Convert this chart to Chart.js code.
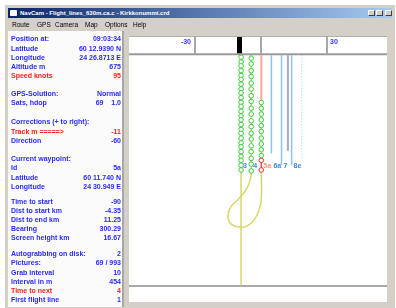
<!DOCTYPE html>
<html><head><meta charset="utf-8">
<script src="https://cdn.jsdelivr.net/npm/chart.js@4/dist/chart.umd.min.js"></script>
<style>
html,body{margin:0;padding:0;background:#fff;width:396px;height:308px;overflow:hidden;font-family:"Liberation Sans",Arial,sans-serif;}
.abs{position:absolute;}
#frame{left:5px;top:5px;width:390px;height:305px;background:#d4d0c8;}
#title{left:8px;top:8px;width:384px;height:10px;background:linear-gradient(to right,#0a246a,#a6caf0);}
#ttext{left:20px;top:8px;height:10px;line-height:10px;font-size:6px;font-weight:bold;color:#fff;white-space:nowrap;}
#icon{left:10px;top:10px;width:7px;height:6px;background:#fff;border-radius:1px;}
.btn{top:10px;width:7px;height:6px;background:#d4d0c8;border:1px solid #fff;border-right-color:#404040;border-bottom-color:#404040;box-sizing:border-box;}
#menu{left:8px;top:19px;width:384px;height:11px;background:#d4d0c8;}
.mi{top:20px;font-size:6.5px;line-height:10px;color:#000;}
#panel{left:8px;top:31px;width:115px;height:276px;background:#fbfbfb;}
#sep{left:122px;top:31px;width:2px;height:276px;background:#a8a8a8;}
.lab{left:11px;font-size:7px;font-weight:bold;line-height:8px;white-space:pre;}
.val{right:275px;font-size:7px;font-weight:bold;line-height:8px;white-space:pre;text-align:right;}
#c{left:124px;top:31px;}
</style></head>
<body>
<div id="frame" class="abs"></div>
<div id="title" class="abs"></div>
<div id="icon" class="abs"></div>
<div id="ttext" class="abs">NavCam - Flight_lines_630m.ca.c - Kirkkonummi.crd</div>
<div class="abs btn" style="left:368px"></div>
<div class="abs btn" style="left:376px"></div>
<div class="abs btn" style="left:385px"></div>
<div id="menu" class="abs"></div>
<div id="panel" class="abs"></div>
<div id="sep" class="abs"></div>
<canvas id="c" class="abs" width="268" height="276"></canvas>
<script>
// ---- window menu and info panel text ----
const menuItems = ['Route','GPS','Camera','Map','Options','Help'];
const menuX = [12,37,55,85,105,133];
const panelLabels = ['Position at:','Latitude','Longitude','Altitude m','Speed knots','GPS-Solution:','Sats, hdop','Corrections (+ to right):','Track m =====>','Direction','Current waypoint:','Id','Latitude','Longitude','Time to start','Dist to start km','Dist to end km','Bearing','Screen height km','Autograbbing on disk:','Pictures:','Grab interval','Interval in m','Time to next','First flight line'];
const panelValues = ['09:03:34','60 12.9390 N','24 26.8713 E','675','95','Normal','69    1.0','','-11','-60','','5a','60 11.740 N','24 30.949 E','-90','-4.35','11.25','300.29','16.67','2','69 / 993','10','454','4','1'];
const panelRed = [4,8,23];
const panelRowY = [39,48.5,58,67,76,94,103,122,131.5,140.5,159,168,177.5,187,201.5,210.5,219.5,229,238,254,263,272.5,281.5,290.5,300];

// ---- map data (x: cross-track offset units, y: along-track distance units) ----
const headerTicks = [-30, 0, 30];
const headerTickLabels = ['-30', '', '30'];
const planeX = -10;
const lineX = [-9.2, -4.6, 0, 4.6, 9.2, 13.8, 18.4];
const lineLabels = ['3', '4', '5a', '6a', '7', '8e', ''];
const labelY = 125;
const lineTop = 239;
const blueLineX = [4.6, 9.2, 13.8];
const blueLineEnd = [137, 125, 125];
const grayLineX = 12.1;
const grayLineEnd = 140;
const dottedLineX = 18.4;
const dottedLineEnd = 130;
const salmonEnd = 190;
const photos3 = [237,232,228,223,218,214,209,204,200,195,190,186,181,176,172,167,162,158,153,148,144,139,134,130,125,120];
const photos4 = [236,230,223,217,210,204,197,191,184,178,171,165,158,152,145,139,132,126,119];
const photos5 = [190,184,178,172,166,160,153,147,141,135];
const photos5red = [130,120];
const trackAX = [-4.6,-4.6,-5.0,-6.8,-10.3,-13.8,-15.1,-14.7,-12.5,-9.2];
const trackAY = [239,118,110,100,90,82,74,67,62,61];
const trackBX = [0,0,-1.1,-3.3,-6.4,-9.2];
const trackBY = [119,90,78,68,62,60];
const trackCX = [-9.2,-9.2];
const trackCY = [120,0];
const currentY = 0;

// build panel
menuItems.forEach((t,i)=>{const d=document.createElement('div');d.className='abs mi';d.style.left=menuX[i]+'px';d.textContent=t;document.body.appendChild(d);});
panelLabels.forEach((t,i)=>{
  const col = panelRed.includes(i) ? '#ff2020' : '#2a2aff';
  const a=document.createElement('div');a.className='abs lab';a.style.top=(panelRowY[i]-4)+'px';a.style.color=col;a.textContent=t;document.body.appendChild(a);
  if(panelValues[i]!==''){const b=document.createElement('div');b.className='abs val';b.style.top=(panelRowY[i]-4)+'px';b.style.color=col;b.textContent=panelValues[i];document.body.appendChild(b);}
});

const pts = (xs, ys) => xs.map((x,i)=>({x, y: ys[i]}));
const col = (x, ys) => ys.map(y=>({x, y}));
const lineDs = (data, color, width, order, extra) => Object.assign({type:'scatter', data, showLine:true, borderColor:color, borderWidth:width, pointRadius:0, order, fill:false}, extra||{});

const datasets = [];
// guide lines
blueLineX.forEach((x,i)=>datasets.push(lineDs([{x,y:lineTop},{x,y:blueLineEnd[i]}], '#8cc4ec', 1.5, 20)));
datasets.push(lineDs([{x:grayLineX,y:lineTop},{x:grayLineX,y:grayLineEnd}], '#a8a8c8', 2, 20));
datasets.push(lineDs([{x:dottedLineX,y:lineTop},{x:dottedLineX,y:dottedLineEnd}], '#9ccdf2', 1, 20, {borderDash:[1,2]}));
datasets.push(lineDs([{x:lineX[2],y:lineTop},{x:lineX[2],y:salmonEnd}], '#ffa890', 2, 20));
datasets.push(lineDs(col(lineX[0], [lineTop, photos3[photos3.length-1]]), '#a0a0a0', 1, 20));
// flown tracks
datasets.push(lineDs(pts(trackAX, trackAY), '#d6d66a', 1.5, 10, {tension:0.45}));
datasets.push(lineDs(pts(trackBX, trackBY), '#d6d66a', 1.5, 10, {tension:0.45}));
datasets.push(lineDs(pts(trackCX, trackCY), '#d6d66a', 1.5, 10));
datasets.push(lineDs(col(lineX[2], photos5), '#d6d66a', 1, 10));
datasets.push(lineDs(col(lineX[2], photos5red), '#ff5050', 1.5, 10));
// photo points
const ptDs = (data, color) => ({type:'scatter', data, showLine:false, pointRadius:2.3, pointBorderWidth:1, pointBorderColor:color, pointBackgroundColor:'#ffffff', order:0});
datasets.push(ptDs(col(lineX[0], photos3), '#3ccc3c'));
datasets.push(ptDs(col(lineX[1], photos4), '#3ccc3c'));
datasets.push(ptDs(col(lineX[2], photos5), '#3ccc3c'));
datasets.push(ptDs(col(lineX[2], photos5red), '#ff3030'));

const mapPlugin = {
  id:'mapDecor',
  beforeDatasetsDraw(chart){
    const {ctx, scales:{x,y}, chartArea:a} = chart;
    ctx.save();
    ctx.fillStyle='#fff'; ctx.fillRect(a.left,a.top,a.right-a.left,a.bottom-a.top);
    const yc = Math.round(y.getPixelForValue(currentY));
    ctx.fillStyle='#a8a8a8'; ctx.fillRect(a.left, yc-1, a.right-a.left, 2);
    ctx.restore();
  },
  afterDatasetsDraw(chart){
    const {ctx, scales:{x,y}, chartArea:a} = chart;
    ctx.save();
    ctx.font='bold 7px "Liberation Sans", Arial, sans-serif';
    ctx.textBaseline='middle'; ctx.textAlign='left';
    lineLabels.forEach((t,i)=>{
      if(!t) return;
      ctx.fillStyle = i===2 ? '#ff9478' : '#3a8ad0';
      ctx.fillText(t, x.getPixelForValue(lineX[i])+2, y.getPixelForValue(labelY)+1);
    });
    // header strip
    const hb = y.getPixelForValue(lineTop) - 1;
    ctx.fillStyle='#fff'; ctx.fillRect(a.left, a.top, a.right-a.left, hb-a.top);
    ctx.fillStyle='#b0b0b0'; ctx.fillRect(a.left, a.top, a.right-a.left, 1);
    ctx.fillStyle='#9a9a9a'; ctx.fillRect(a.left, hb-1, a.right-a.left, 2);
    headerTicks.forEach((v,i)=>{
      const px = Math.round(x.getPixelForValue(v));
      ctx.fillStyle='#a8a8a8'; ctx.fillRect(px-1, a.top, 2, hb-a.top);
      const t = headerTickLabels[i];
      if(t){
        ctx.fillStyle='#3a3aff';
        ctx.textAlign = v<0 ? 'right' : 'left';
        ctx.fillText(t, v<0 ? px-4 : px+3, a.top+6);
      }
    });
    const bx = x.getPixelForValue(planeX);
    ctx.fillStyle='#000'; ctx.fillRect(Math.round(bx-2.5), a.top+1, 5, hb-a.top-2);
    ctx.restore();
  }
};

new Chart(document.getElementById('c'), {
  type:'scatter',
  data:{datasets},
  options:{
    responsive:false, animation:false, devicePixelRatio:1,
    layout:{padding:0},
    plugins:{legend:{display:false}, tooltip:{enabled:false}},
    scales:{
      x:{type:'linear', min:-60.2, max:57.2, display:false},
      y:{type:'linear', min:-17, max:259, display:false}
    }
  },
  plugins:[mapPlugin]
});
</script>
</body></html>
